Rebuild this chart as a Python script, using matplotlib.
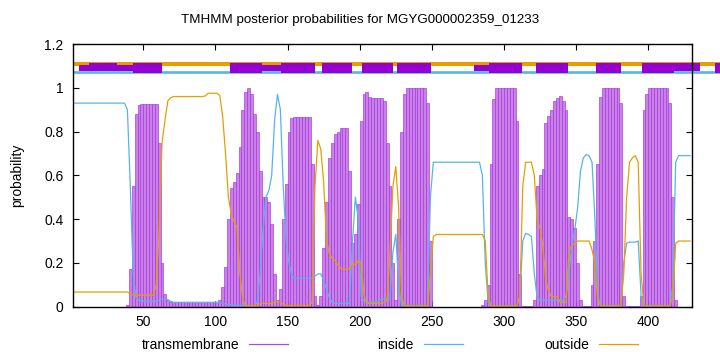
import numpy as np
import matplotlib
matplotlib.use("Agg")
import matplotlib.pyplot as plt
from matplotlib.lines import Line2D

plt.rcParams['font.family'] = ['Liberation Sans', 'DejaVu Sans']

title = "TMHMM posterior probabilities for MGYG000002359_01233"
residues = np.arange(1, 430, 2)  # residue positions (every 2nd residue)

inside = [
    0.93, 0.93, 0.93, 0.93, 0.93, 0.93, 0.93, 0.93, 0.93, 0.93,
    0.93, 0.93, 0.93, 0.93, 0.93, 0.93, 0.93, 0.93, 0.93, 0.90,
    0.55, 0.15, 0.04, 0.03, 0.025, 0.025, 0.025, 0.025, 0.025, 0.025,
    0.03, 0.033, 0.034, 0.032, 0.025, 0.02, 0.02, 0.02, 0.02, 0.02,
    0.02, 0.02, 0.02, 0.02, 0.02, 0.02, 0.02, 0.02, 0.02, 0.02,
    0.02, 0.018, 0.015, 0.012, 0.01, 0.008, 0.005, 0.005, 0.005, 0.005,
    0.005, 0.005, 0.005, 0.005, 0.02, 0.15, 0.35, 0.5, 0.53, 0.6,
    0.85, 0.97, 0.9, 0.55, 0.3, 0.2, 0.14, 0.13, 0.13, 0.13,
    0.13, 0.13, 0.13, 0.13, 0.14, 0.15, 0.15, 0.12, 0.08, 0.04,
    0.02, 0.015, 0.015, 0.015, 0.015, 0.015, 0.015, 0.3, 0.5, 0.4,
    0.05, 0.025, 0.02, 0.02, 0.02, 0.02, 0.025, 0.035, 0.035, 0.035,
    0.035, 0.25, 0.33, 0.1, 0.005, 0.005, 0.005, 0.005, 0.005, 0.005,
    0.005, 0.005, 0.005, 0.005, 0.5, 0.66, 0.66, 0.66, 0.66, 0.66,
    0.66, 0.66, 0.66, 0.66, 0.66, 0.66, 0.66, 0.66, 0.66, 0.66,
    0.66, 0.66, 0.6, 0.2, 0.02, 0.003, 0.003, 0.003, 0.003, 0.003,
    0.003, 0.003, 0.003, 0.003, 0.003, 0.05, 0.3, 0.335, 0.33, 0.32,
    0.15, 0.04, 0.03, 0.03, 0.03, 0.03, 0.03, 0.03, 0.03, 0.03,
    0.03, 0.05, 0.15, 0.28, 0.35, 0.45, 0.62, 0.68, 0.695, 0.69,
    0.66, 0.4, 0.05, 0.003, 0.003, 0.003, 0.003, 0.003, 0.003, 0.003,
    0.003, 0.2, 0.29, 0.295, 0.295, 0.295, 0.3, 0.05, 0.003, 0.003,
    0.003, 0.003, 0.003, 0.003, 0.003, 0.003, 0.003, 0.003, 0.1, 0.66,
    0.69, 0.69, 0.69, 0.69, 0.69,
]

outside = [
    0.067, 0.067, 0.067, 0.067, 0.067, 0.067, 0.067, 0.067, 0.067, 0.067,
    0.067, 0.067, 0.067, 0.067, 0.067, 0.067, 0.067, 0.067, 0.067, 0.067,
    0.06, 0.053, 0.053, 0.053, 0.053, 0.053, 0.053, 0.053, 0.053, 0.1,
    0.35, 0.75, 0.85, 0.94, 0.955, 0.96, 0.96, 0.96, 0.96, 0.96,
    0.96, 0.96, 0.96, 0.96, 0.96, 0.96, 0.963, 0.975, 0.975, 0.975,
    0.975, 0.965, 0.87, 0.7, 0.5, 0.42, 0.39, 0.36, 0.15, 0.03,
    0.005, 0.005, 0.005, 0.005, 0.005, 0.015, 0.015, 0.015, 0.015, 0.015,
    0.02, 0.025, 0.02, 0.01, 0.005, 0.005, 0.005, 0.005, 0.005, 0.005,
    0.005, 0.005, 0.005, 0.02, 0.55, 0.76, 0.72, 0.57, 0.3, 0.24,
    0.22, 0.21, 0.19, 0.175, 0.17, 0.17, 0.175, 0.2, 0.19, 0.21,
    0.2, 0.05, 0.015, 0.015, 0.015, 0.015, 0.015, 0.015, 0.02, 0.03,
    0.25, 0.55, 0.64, 0.45, 0.05, 0.003, 0.003, 0.003, 0.003, 0.003,
    0.003, 0.003, 0.003, 0.003, 0.15, 0.32, 0.33, 0.33, 0.33, 0.33,
    0.33, 0.33, 0.33, 0.33, 0.33, 0.33, 0.33, 0.33, 0.33, 0.33,
    0.33, 0.33, 0.33, 0.3, 0.05, 0.003, 0.003, 0.003, 0.003, 0.003,
    0.003, 0.003, 0.003, 0.003, 0.003, 0.05, 0.55, 0.66, 0.66, 0.66,
    0.6, 0.39, 0.36, 0.27, 0.12, 0.07, 0.045, 0.045, 0.045, 0.02,
    0.02, 0.02, 0.25, 0.28, 0.29, 0.3, 0.3, 0.3, 0.3, 0.3,
    0.26, 0.2, 0.03, 0.003, 0.003, 0.003, 0.003, 0.003, 0.003, 0.003,
    0.003, 0.15, 0.5, 0.66, 0.68, 0.69, 0.66, 0.15, 0.003, 0.003,
    0.003, 0.003, 0.003, 0.003, 0.003, 0.003, 0.003, 0.003, 0.05, 0.29,
    0.30, 0.30, 0.30, 0.30, 0.30,
]

transmembrane = [
    0, 0, 0, 0, 0, 0, 0, 0, 0, 0,
    0, 0, 0, 0, 0, 0, 0, 0, 0, 0.01,
    0.17, 0.55, 0.88, 0.92, 0.925, 0.925, 0.925, 0.925, 0.925, 0.925,
    0.75, 0.2, 0.06, 0.03, 0.022, 0.022, 0.022, 0.022, 0.022, 0.022,
    0.022, 0.022, 0.022, 0.022, 0.022, 0.022, 0.022, 0.022, 0.022, 0.022,
    0.022, 0.03, 0.09, 0.18, 0.4, 0.54, 0.57, 0.61, 0.73, 0.9,
    0.98, 1.0, 0.97, 0.88, 0.8, 0.62, 0.5, 0.5, 0.48, 0.38,
    0.15, 0.03, 0.08, 0.4, 0.56, 0.8, 0.86, 0.868, 0.868, 0.868,
    0.868, 0.868, 0.868, 0.65, 0.05, 0.01, 0.05, 0.27, 0.48, 0.68,
    0.75, 0.79, 0.8, 0.815, 0.815, 0.815, 0.62, 0.29, 0.33, 0.47,
    0.85, 0.97, 0.98, 0.96, 0.955, 0.955, 0.955, 0.955, 0.94, 0.75,
    0.55, 0.2, 0.03, 0.4, 0.8, 0.97, 1.0, 1.0, 1.0, 1.0,
    1.0, 1.0, 1.0, 0.93, 0.3, 0, 0, 0, 0, 0,
    0, 0, 0, 0, 0, 0, 0, 0, 0, 0,
    0, 0, 0.01, 0.03, 0.1, 0.65, 0.95, 1.0, 1.0, 1.0,
    1.0, 1.0, 1.0, 1.0, 0.85, 0.15, 0.005, 0.005, 0.005, 0.005,
    0.03, 0.55, 0.6, 0.63, 0.84, 0.87, 0.9, 0.94, 0.955, 0.963,
    0.94, 0.9, 0.41, 0.4, 0.36, 0.2, 0.03, 0.005, 0.005, 0.005,
    0.1, 0.3, 0.65, 0.96, 1.0, 1.0, 1.0, 1.0, 1.0, 1.0,
    0.93, 0.05, 0.005, 0.005, 0.005, 0.005, 0.005, 0.05, 0.9, 0.97,
    1.0, 1.0, 1.0, 1.0, 1.0, 1.0, 1.0, 0.93, 0.5, 0.03,
    0, 0, 0, 0, 0,
]

# top annotation band (residue coordinates)
band_start = [5.6, 12.4, 31.6, 43.1, 110.1, 132.5, 145.2, 173.6, 201.3, 226.0,
              279.2, 289.8, 321.9, 363.7, 395.8, 417.9, 446.2]
band_end = [12.4, 31.6, 43.1, 62.7, 132.5, 145.2, 169.0, 194.4, 223.2, 249.2,
            289.8, 312.2, 344.1, 381.0, 417.9, 435.8, 450.0]
band_low = [1.078, 1.078, 1.078, 1.066, 1.066, 1.078, 1.066, 1.066, 1.066, 1.066,
            1.078, 1.066, 1.066, 1.066, 1.066, 1.077, 1.066]
band_high = [1.104, 1.114, 1.104, 1.114, 1.114, 1.104, 1.114, 1.114, 1.114, 1.114,
             1.104, 1.114, 1.114, 1.114, 1.114, 1.112, 1.114]
outside_level = 1.108
inside_level = 1.072
band_span = [1.5, 450.0]

xticks = [50, 100, 150, 200, 250, 300, 350, 400]
yticks = [0, 0.2, 0.4, 0.6, 0.8, 1.0, 1.2]
yticklabels = ["0", "0.2", "0.4", "0.6", "0.8", "1", "1.2"]

PURPLE = "#9400d3"
BLUE = "#56b4e9"
ORANGE = "#e69f00"

fig = plt.figure(figsize=(7.2, 3.52), dpi=100)
ax = fig.add_axes([73.3 / 720, 1 - 306.7 / 352, (692.3 - 73.3) / 720, (306.7 - 44) / 352])

ax.bar(residues, transmembrane, width=2.0, color="#c980e8", edgecolor="#a535da",
       linewidth=0.45, zorder=2)
ax.plot(residues, inside, color=BLUE, lw=0.9, zorder=3)
ax.plot(residues, outside, color=ORANGE, lw=0.9, zorder=3)

# top band
ax.plot(band_span, [outside_level, outside_level], color=ORANGE, lw=2.9,
        solid_capstyle='butt', clip_on=False, zorder=4)
ax.plot(band_span, [inside_level, inside_level], color=BLUE, lw=1.9,
        solid_capstyle='butt', clip_on=False, zorder=4)
bs = np.array(band_start); be = np.array(band_end)
bl = np.array(band_low); bh = np.array(band_high)
bars = ax.bar(bs, bh - bl, width=be - bs, bottom=bl, align='edge', color=PURPLE,
              linewidth=0, zorder=5)
for b in bars:
    b.set_clip_on(False)

ax.set_xlim(1.5, 430.5)
ax.set_ylim(0, 1.2)
ax.set_xticks(xticks)
ax.set_xticklabels([str(t) for t in xticks])
ax.set_yticks(yticks)
ax.set_yticklabels(yticklabels)
ax.tick_params(direction='in', length=4, width=0.8, top=True, right=True,
               labelsize=10, pad=7, colors='black')
ax.tick_params(axis='x', pad=6)
for s in ax.spines.values():
    s.set_linewidth(1.0)
    s.set_color('black')
    s.set_zorder(6)

fig.text(0.5, 1 - 20 / 352, title, ha='center', va='center', fontsize=9.6)
fig.text(17 / 720, 1 - 175 / 352, "probability", rotation=90, ha='center',
         va='center', fontsize=10)

# legend (text right-justified, sample line after)
leg_labels = ["transmembrane", "inside", "outside"]
leg_colors = ["#a84fd8", BLUE, ORANGE]
leg_text_right = [239, 414, 589]
leg_line = [(249, 288), (424, 463), (599, 638)]
for lab, col, tx, (l0, l1) in zip(leg_labels, leg_colors, leg_text_right, leg_line):
    fig.text(tx / 720, 1 - 345 / 352, lab, ha='right', va='center', fontsize=10)
    fig.add_artist(Line2D([l0 / 720, l1 / 720], [1 - 344 / 352, 1 - 344 / 352],
                          color=col, lw=0.9, transform=fig.transFigure))

fig.savefig("out.png", dpi=100)
